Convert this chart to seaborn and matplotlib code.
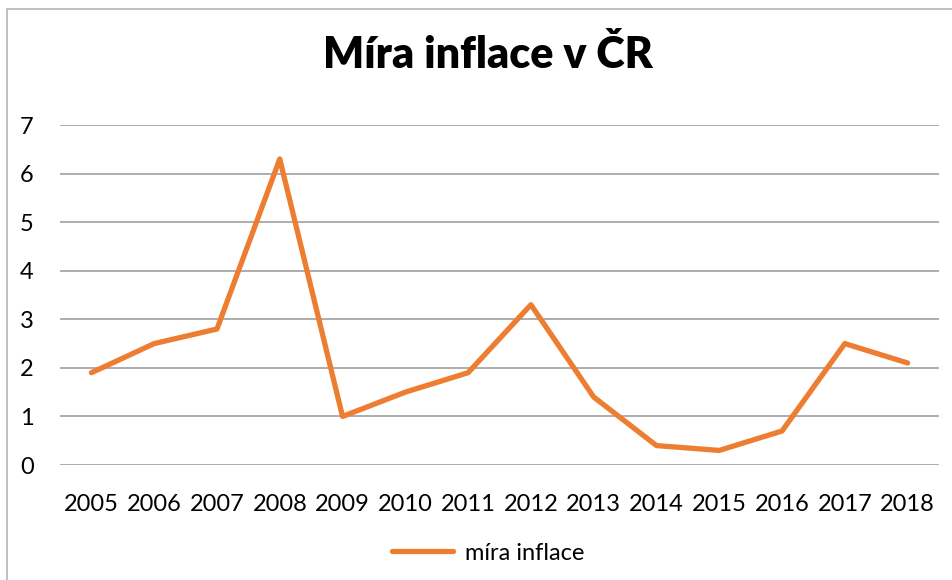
import matplotlib
matplotlib.use("Agg")
import matplotlib.pyplot as plt
import seaborn as sns
import pandas as pd
from matplotlib.patches import Rectangle

years = ["2005", "2006", "2007", "2008", "2009", "2010", "2011",
         "2012", "2013", "2014", "2015", "2016", "2017", "2018"]
inflation = [1.9, 2.5, 2.8, 6.3, 1.0, 1.5, 1.9, 3.3, 1.4, 0.4, 0.3, 0.7, 2.5, 2.1]
series_name = "míra inflace"
title = "Míra inflace v ČR"

sns.set_theme(style="white")
plt.rcParams["font.family"] = ["Lato", "DejaVu Sans"]
plt.rcParams["text.color"] = "black"

df = pd.DataFrame({"rok": years, "hodnota": inflation})

fig = plt.figure(figsize=(9.52, 5.8), dpi=100)
ax = fig.add_axes([60 / 952, 1 - 465 / 580, (939 - 60) / 952, 340 / 580])

sns.lineplot(data=df, x="rok", y="hodnota", ax=ax, color="#ED7D31",
             linewidth=3.8, label=series_name, sort=False)

ax.set_ylim(0, 7)
ax.set_xlim(-0.5, len(years) - 0.5)
ax.set_yticks(range(0, 8))
ax.yaxis.grid(True, color="#a0a0a0", linewidth=1.2)
ax.set_axisbelow(True)
for s in ax.spines.values():
    s.set_visible(False)
ax.set_xlabel("")
ax.set_ylabel("")
ax.tick_params(axis="both", length=0, labelsize=17, colors="black")
ax.tick_params(axis="x", pad=21)
ax.tick_params(axis="y", pad=19)

leg = ax.legend(loc="center", bbox_to_anchor=(488 / 952, 1 - 553 / 580),
                bbox_transform=fig.transFigure, frameon=False, fontsize=17,
                handlelength=2.6, handletextpad=0.5)
for t in leg.get_texts():
    t.set_color("black")

fig.text(488 / 952, 1 - 55 / 580, title, ha="center", va="center",
         fontsize=31, fontweight="heavy", color="black")

fig.patches.append(Rectangle((7 / 952, -0.1), 1.2, 1 - 9 / 580 + 0.1,
                             transform=fig.transFigure, fill=False,
                             edgecolor="#b5b5b5", linewidth=1.2))

fig.savefig("out.png", dpi=100)
